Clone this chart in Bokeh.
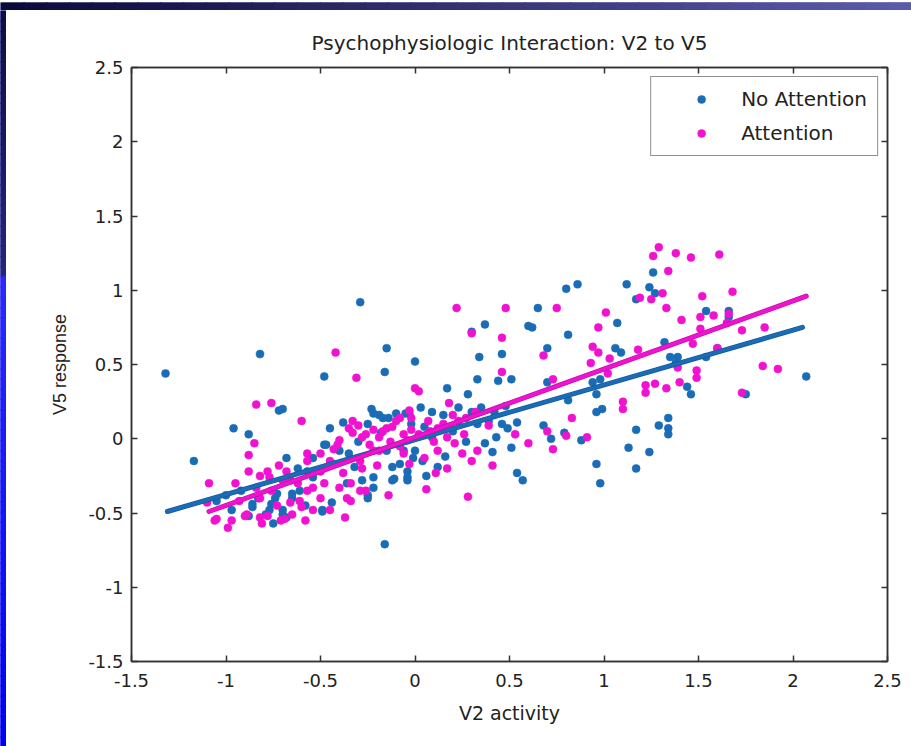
from bokeh.plotting import figure
from bokeh.models import (LinearAxis, FixedTicker, Legend, LegendItem, Range1d, ColumnDataSource)
from bokeh.layouts import column, row
from bokeh.embed import file_html
from bokeh.resources import INLINE

# ---------------- data ----------------
title_text = "Psychophysiologic Interaction: V2 to V5"
x_label = "V2 activity"
y_label = "V5 response"
series_names = ["No Attention", "Attention"]
tick_values = [-1.5, -1, -0.5, 0, 0.5, 1, 1.5, 2, 2.5]
tick_labels = ["-1.5", "-1", "-0.5", "0", "0.5", "1", "1.5", "2", "2.5"]

no_att_x = [-1.32, -0.82, -0.29, -1.17, -0.96, -0.88, -0.72, -0.48, -0.16, -0.15, 0.0, -0.16, -0.68, -0.45,
            0.37, 0.30, 0.60, 0.34, 0.46, 0.33, 0.44, 0.51, 0.17, 0.28, 0.54, 0.51, 0.41, 0.54, 0.57,
            0.80, 0.86, 0.65, 0.62, 0.81, 1.12, 1.24, 1.17, 1.07, 1.26, 0.70, 1.06, 1.09, 0.70, 0.94, 0.98,
            0.81, 0.96, 0.96, 0.99, 0.68, 0.72, 0.79, 0.88, 1.17, 1.13, 1.24, 0.96, 0.98, 1.17, 1.29,
            1.54, 1.66, 1.66, 1.32, 1.35, 1.39, 1.38, 1.54, 1.60, 1.44, 1.46, 1.75, 1.34, 1.34, 1.34, 1.27,
            2.07,
            -0.70, -0.23, -0.19, -0.14, -0.05, -0.38, -0.25, -0.48, -0.54, -0.12, -0.11, -0.22, -0.25, -0.44,
            -0.49, -0.65, -0.70, -0.04, -0.32,
            -0.97, -0.86, -0.79, -0.75, -0.70, -0.76, -0.83, -0.73,
            0.03, 0.09, -0.02, 0.23, 0.30, 0.35, 0.39, 0.46, 0.49, 0.43, 0.37, 0.12, 0.0, 0.09, 0.04, -0.04, 0.33,
            -0.68, -0.77, -0.86, -0.61, -0.54, -0.43, -0.36, -0.25, -0.22, -0.12, -0.08, -0.04, -0.01, -0.06,
            -0.15, -0.22, -0.17, -0.10, -0.03, -0.47, -0.40, -0.57, -0.65, -0.49, -0.74, -1.00, -1.05,
            -0.30, -0.18, 0.05, 0.15, 0.20, 0.27, 0.42, 0.48, -0.62, -0.58, -0.88, -0.92, -0.35, -0.28,
            0.06, 0.16]
no_att_y = [0.44, 0.57, 0.92, -0.15, 0.07, 0.03, 0.19, 0.42, 0.45, 0.61, 0.52, -0.71, -0.13, 0.07,
            0.77, 0.72, 0.76, 0.55, 0.57, 0.40, 0.39, 0.40, 0.34, 0.30, 0.11, -0.06, -0.09, -0.23, -0.28,
            1.01, 1.04, 0.88, 0.75, 0.70, 1.04, 1.02, 0.94, 0.78, 1.12, 0.61, 0.61, 0.58, 0.38, 0.38, 0.40,
            0.26, 0.30, 0.18, 0.20, 0.09, 0.0, 0.04, -0.01, 0.06, -0.06, -0.09, -0.17, -0.30, -0.20, 0.09,
            0.86, 0.86, 0.82, 0.65, 0.55, 0.55, 0.51, 0.55, 0.61, 0.35, 0.30, 0.30, 0.14, 0.07, 0.03, 0.98,
            0.42,
            0.20, 0.20, 0.16, 0.14, 0.17, 0.11, 0.10, -0.04, -0.13, -0.19, -0.27, -0.33, -0.38, -0.43,
            -0.48, -0.37, -0.48, -0.22, -0.19,
            -0.48, -0.46, -0.51, -0.57, -0.51, -0.44, -0.40, -0.37,
            0.21, 0.18, 0.10, 0.21, 0.18, 0.21, 0.12, 0.10, 0.07, 0.01, -0.03, -0.19, -0.08, 0.01, -0.15, -0.26, 0.10,
            -0.53, -0.48, -0.44, -0.35, -0.26, -0.17, -0.30, -0.40, -0.26, -0.28, -0.17, -0.28, -0.13, -0.08,
            -0.08, 0.17, 0.14, 0.17, 0.17, -0.04, -0.08, -0.22, -0.40, -0.49, -0.40, -0.38, -0.42,
            -0.02, 0.04, 0.08, 0.16, 0.05, -0.02, 0.18, 0.22, -0.20, -0.45, -0.52, -0.35, -0.10, -0.28,
            -0.25, -0.12]

att_x = [-0.42, -0.31, -0.84, -0.76, -0.60, -0.85, -1.09, -0.88, 0.0, -0.14,
         0.22, 0.48, 0.30, 0.46, 0.46, 0.02, 0.18, 0.60, 0.41, 0.06, 0.28, 0.17, 0.33,
         0.75, 1.01, 0.97, 1.26, 1.19, 1.25, 0.68, 0.94, 0.97, 0.93, 1.03, 1.18, 0.73, 1.02, 1.22, 1.22,
         1.10, 1.10, 0.83, 0.70, 0.80, 0.91, 0.73,
         1.29, 1.38, 1.46, 1.61, 1.34, 1.31, 1.33, 1.52, 1.68, 1.41, 1.51, 1.58, 1.51, 1.66, 1.65, 1.73,
         1.85, 1.47, 1.84, 1.92, 1.39, 1.49, 1.49, 1.40, 1.33, 1.27, 1.73, 1.60,
         -0.35, -0.28, -0.10, -0.17, -0.57, -0.43, -0.29, -0.19, -0.50, -0.38, -0.66, -0.54, -0.34, -0.26,
         -0.36, -0.54, -0.37, -0.69, -0.61, -0.45, -0.06, -0.26, -0.06,
         -0.88, -1.06, -0.99, -0.97, -0.90, -0.82, -0.78, -0.72, -0.81, -0.78, -0.84, -0.76, -0.70, -1.10,
         -0.02, 0.07, 0.12, 0.17, 0.23, 0.21, 0.12, 0.05, -0.03, 0.11, 0.26, 0.39, -0.04, 0.02, 0.53,
         -1.05, -0.89, -0.82, -0.71, -0.65, -0.60, -0.57, -0.50, -0.34, -0.29, -0.28, -0.22, -0.19, -0.15,
         -0.08, -0.03, -0.33, -0.41, -0.50, -0.57, -0.68, -0.77, -0.82,
         -0.33, -0.30, -0.22, -0.12, -0.02, -0.40, -0.24, -0.13, -0.08, -0.45, -0.20, 0.08, 0.15, 0.20,
         0.27, 0.32, 0.10, 0.25, 0.30, -0.62, -0.48, -0.40, -0.73, -0.66, -0.58, -0.93, -0.95]
att_y = [0.58, 0.41, 0.23, 0.24, 0.12, -0.03, -0.30, -0.11, 0.34, -0.38,
         0.88, 0.88, 0.71, 0.68, 0.45, 0.32, 0.24, -0.03, -0.18, -0.34, -0.39, -0.20, -0.08,
         0.88, 0.85, 0.75, 1.23, 0.95, 0.94, 0.56, 0.62, 0.58, 0.51, 0.54, 0.60, 0.40, 0.44, 0.36, 0.31,
         0.25, 0.20, 0.14, 0.05, 0.02, 0.01, -0.07,
         1.29, 1.25, 1.22, 1.24, 1.13, 0.98, 0.88, 0.96, 0.99, 0.80, 0.82, 0.83, 0.74, 0.84, 0.78, 0.73,
         0.75, 0.64, 0.49, 0.47, 0.48, 0.46, 0.41, 0.38, 0.34, 0.37, 0.31, 0.61,
         0.07, 0.01, 0.12, 0.05, -0.10, -0.07, -0.15, -0.08, -0.22, -0.23, -0.28, -0.33, -0.30, -0.35,
         -0.40, -0.48, -0.53, -0.54, -0.42, -0.48, -0.10, 0.03, 0.03,
         -0.22, -0.55, -0.60, -0.55, -0.52, -0.25, -0.22, -0.18, -0.57, -0.52, -0.33, -0.35, -0.28, -0.43,
         0.14, 0.12, 0.07, 0.01, 0.12, -0.03, -0.08, -0.13, -0.17, -0.23, 0.03, 0.09, -0.01, 0.03, 0.03,
         -0.54, -0.51, -0.53, -0.55, -0.51, -0.46, -0.35, -0.40, -0.42, -0.35, -0.20, -0.08, 0.01, 0.07,
         0.14, 0.19, 0.04, -0.04, -0.10, -0.15, -0.22, -0.26, -0.40,
         0.12, 0.09, 0.06, 0.08, 0.06, -0.01, -0.04, -0.02, -0.05, -0.15, -0.18, 0.05, 0.10, 0.16,
         0.14, 0.18, -0.02, -0.10, -0.15, -0.30, -0.30, -0.33, -0.45, -0.43, -0.55, -0.42, -0.30]

# fitted regression lines (end points)
no_att_fit_x = [-1.31, 2.05]
no_att_fit_y = [-0.49, 0.75]
att_fit_x = [-1.09, 2.07]
att_fit_y = [-0.49, 0.96]

# ---------------- styles ----------------
BLUE = "#1b6cb6"
MAGENTA = "#f012d0"
HFONT = "DejaVu Sans"       # horizontal texts (the reference is stretched sideways)
VFONT = "Liberation Sans"   # vertical axis title
TXT = "#222222"

W, H = 911, 746
TOP_BAND, LEFT_BAND = 10, 6
PW, PH = W - LEFT_BAND, H - TOP_BAND

p = figure(width=PW, height=PH, output_backend="svg", toolbar_location=None,
           x_range=Range1d(-1.5, 2.5), y_range=Range1d(-1.5, 2.5),
           min_border_left=131 - LEFT_BAND, min_border_right=24,
           min_border_top=67 - TOP_BAND, min_border_bottom=85,
           title=title_text)
p.frame_align = False
p.background_fill_color = "white"
p.border_fill_color = "white"
p.grid.visible = False
p.outline_line_color = "#333333"
p.outline_line_width = 1.5

p.title.align = "center"
p.title.text_font = HFONT
p.title.text_font_size = "20px"
p.title.text_font_style = "normal"
p.title.text_color = TXT
p.title.standoff = 26

ticker = FixedTicker(ticks=tick_values)
overrides = {v: s for v, s in zip(tick_values, tick_labels)}

for ax, lab in ((p.xaxis[0], x_label), (p.yaxis[0], y_label)):
    ax.ticker = ticker
    ax.major_label_overrides = overrides
    ax.axis_label = lab
    ax.axis_label_text_font_style = "normal"
    ax.axis_label_text_color = TXT
    ax.major_label_text_font = HFONT
    ax.major_label_text_font_size = "18px"
    ax.major_label_text_color = TXT
    ax.major_tick_in = 6
    ax.major_tick_out = 0
    ax.minor_tick_line_color = None
    ax.axis_line_color = "#333333"
    ax.axis_line_width = 1.5
    ax.major_tick_line_color = "#333333"
    ax.major_tick_line_width = 1.5
p.xaxis[0].axis_label_text_font = HFONT
p.xaxis[0].axis_label_text_font_size = "19px"
p.yaxis[0].axis_label_text_font = VFONT
p.yaxis[0].axis_label_text_font_size = "18px"
p.xaxis[0].major_label_standoff = 12
p.xaxis[0].axis_label_standoff = 12
p.yaxis[0].major_label_standoff = 8
p.yaxis[0].axis_label_standoff = 15

for loc in ("above", "right"):
    ax = LinearAxis(ticker=ticker, major_label_text_color=None, major_label_text_font_size="1px",
                    major_tick_in=6, major_tick_out=0, minor_tick_line_color=None,
                    axis_line_color="#333333", axis_line_width=1.5,
                    major_tick_line_color="#333333", major_tick_line_width=1.5,
                    major_label_standoff=0)
    p.add_layout(ax, loc)

src_b = ColumnDataSource(dict(x=no_att_x, y=no_att_y))
src_m = ColumnDataSource(dict(x=att_x, y=att_y))
rb = p.scatter("x", "y", source=src_b, marker="circle", size=8, fill_color=BLUE, line_color=BLUE, line_width=0.5)
rm = p.scatter("x", "y", source=src_m, marker="circle", size=8, fill_color=MAGENTA, line_color=MAGENTA, line_width=0.5)

p.line(no_att_fit_x, no_att_fit_y, line_color="#135a9c", line_width=5, line_cap="round")
p.line(no_att_fit_x, no_att_fit_y, line_color=BLUE, line_width=3.5, line_cap="round")
p.line(att_fit_x, att_fit_y, line_color="#c010a8", line_width=5, line_cap="round")
p.line(att_fit_x, att_fit_y, line_color=MAGENTA, line_width=3.5, line_cap="round")

legend = Legend(items=[LegendItem(label=series_names[0], renderers=[rb]),
                       LegendItem(label=series_names[1], renderers=[rm])],
                location="top_right", margin=9, padding=10, spacing=10,
                glyph_width=80, glyph_height=20, label_height=20, label_standoff=0,
                label_text_font=HFONT, label_text_font_size="20px", label_text_color=TXT,
                border_line_color="#222222", border_line_width=1.5,
                background_fill_color="white", background_fill_alpha=1.0)
p.add_layout(legend)


# ---------------- slide frame decoration (two thin strips) ----------------
def mix(c1, c2, t):
    a = [int(c1[i:i + 2], 16) for i in (1, 3, 5)]
    b = [int(c2[i:i + 2], 16) for i in (1, 3, 5)]
    return "#%02x%02x%02x" % tuple(int(round(a[k] + (b[k] - a[k]) * t)) for k in range(3))


def strip(width, height, n, colors_fn, horizontal, base):
    f = figure(width=width, height=height, output_backend="svg", toolbar_location=None,
               x_range=Range1d(0, 1), y_range=Range1d(0, 1),
               x_axis_location=None, y_axis_location=None,
               min_border=0, min_border_left=0, min_border_right=0,
               min_border_top=0, min_border_bottom=0)
    f.frame_align = False
    f.grid.visible = False
    f.outline_line_color = None
    f.border_fill_color = base
    f.background_fill_color = base
    edges = [i / n for i in range(n + 1)]
    cols = [colors_fn(i / (n - 1)) for i in range(n)]
    if horizontal:
        f.quad(left=edges[:-1], right=[e + 0.002 for e in edges[1:]], bottom=-0.1, top=1.1,
               fill_color=cols, line_color=None)
    else:
        f.quad(left=-0.1, right=1.1, top=[1 - e for e in edges[:-1]],
               bottom=[1 - e - 0.002 for e in edges[1:]], fill_color=cols, line_color=None)
    return f


top_strip = strip(W, TOP_BAND, 40, lambda t: mix("#0a0a3a", "#5a5aac", t), True, "#2c2c6e")


def left_colors(t):
    y = t * PH
    if y < 262:
        return mix("#0e0e44", "#26267a", y / 262)
    return mix("#2a2aff", "#0000f4", (y - 262) / (PH - 262))


left_strip = strip(LEFT_BAND, PH, 72, left_colors, False, "#1010c0")

layout = column(top_strip, row(left_strip, p, spacing=0), spacing=0)
open("out.html", "w").write(file_html(layout, INLINE))
